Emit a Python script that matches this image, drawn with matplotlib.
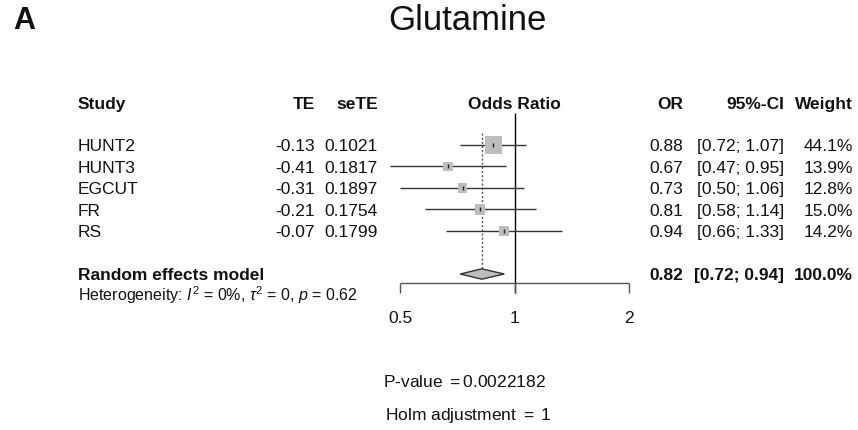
import numpy as np
import matplotlib
matplotlib.use("Agg")
import matplotlib.pyplot as plt
import matplotlib.transforms as mtransforms
from matplotlib.patches import Polygon

plt.rcParams['font.family'] = ['Liberation Sans', 'DejaVu Sans']
plt.rcParams['mathtext.fontset'] = 'custom'
plt.rcParams['mathtext.rm'] = 'Liberation Sans'
plt.rcParams['mathtext.it'] = 'Liberation Sans:italic'

# ---- data ----
studies = ['HUNT2', 'HUNT3', 'EGCUT', 'FR', 'RS']
te = [-0.13, -0.41, -0.31, -0.21, -0.07]
se_te = [0.1021, 0.1817, 0.1897, 0.1754, 0.1799]
odds = [0.88, 0.67, 0.73, 0.81, 0.94]
ci_low = [0.72, 0.47, 0.50, 0.58, 0.66]
ci_high = [1.07, 0.95, 1.06, 1.14, 1.33]
weights = [44.1, 13.9, 12.8, 15.0, 14.2]
pooled = [0.82, 0.72, 0.94]   # OR, lower, upper
x_ticks = [0.5, 1, 2]

W, H = 858, 430
fig = plt.figure(figsize=(W / 100, H / 100), dpi=100)
ax = fig.add_axes([0, 0, 1, 1])
ax.set_xscale('log')
# 0.5 -> 400px, 2 -> 629px ; row 0 -> 145px, 21.5px per row
ax.set_xlim(0.5 * 2 ** (-400 / 114.5), 8.0)
ax.set_ylim((H - 145) / 21.5, -145 / 21.5)
ax.axis('off')

tr = mtransforms.blended_transform_factory(ax.transAxes, ax.transData)

def px(x):
    return x / W

def txt(x, y, s, ha='left', bold=False, size=12.5):
    ax.text(px(x), y + 0.08, s, transform=tr, ha=ha, va='center',
            fontsize=size, fontweight='bold' if bold else 'normal', color='#111111')

rows = np.arange(len(studies))
hdr = -1.95
pool_y = 6.0

# headers
txt(78, hdr, 'Study', bold=True)
txt(315, hdr, 'TE', ha='right', bold=True)
txt(378, hdr, 'seTE', ha='right', bold=True)
txt(514, hdr, 'Odds Ratio', ha='center', bold=True)
txt(683, hdr, 'OR', ha='right', bold=True)
txt(784, hdr, '95%-CI', ha='right', bold=True)
txt(853, hdr, 'Weight', ha='right', bold=True)

# study rows
for i, name in enumerate(studies):
    txt(78, i, name)
    txt(315, i, f'{te[i]:.2f}', ha='right')
    txt(378, i, f'{se_te[i]:.4f}', ha='right')
    txt(683, i, f'{odds[i]:.2f}', ha='right')
    txt(784, i, f'[{ci_low[i]:.2f}; {ci_high[i]:.2f}]', ha='right')
    txt(853, i, f'{weights[i]:.1f}%', ha='right')

# pooled row
txt(78, pool_y, 'Random effects model', bold=True)
txt(683, pool_y, f'{pooled[0]:.2f}', ha='right', bold=True)
txt(784, pool_y, f'[{pooled[1]:.2f}; {pooled[2]:.2f}]', ha='right', bold=True)
txt(853, pool_y, f'{sum(weights):.1f}%', ha='right', bold=True)
txt(78, 6.9, r'Heterogeneity: $I^2$ = 0%, $\tau^2$ = 0, $p$ = 0.62', size=11.5)

# CI lines and squares
ax.hlines(rows, ci_low, ci_high, color='#333333', lw=1.0, zorder=2)
side_pt = 17.5 * 0.72 * np.sqrt(np.array(weights) / max(weights))
ax.scatter(odds, rows, marker='s', s=side_pt ** 2, color='#bdbdbd',
           edgecolors='none', zorder=3)
ax.plot(odds, rows, '|', color='#222222', ms=3.5, mew=1.0, zorder=4)

# reference lines
ax.vlines(1, -1.49, 6.9, color='black', lw=1.0, zorder=1)
ax.vlines(pooled[0], -0.55, pool_y - 0.23, color='#555555', lw=1.0,
          linestyles=(0, (1.5, 1.5)), zorder=1)

# diamond
dia = Polygon([(pooled[1], pool_y), (pooled[0], pool_y - 0.24),
               (pooled[2], pool_y), (pooled[0], pool_y + 0.24)],
              closed=True, facecolor='#bdbdbd', edgecolor='#333333', lw=1.0, zorder=3)
ax.add_patch(dia)

# x axis
axis_y = 6.4
ax.hlines(axis_y, x_ticks[0], x_ticks[-1], color='#555555', lw=1.0)
ax.vlines(x_ticks, axis_y, axis_y + 0.47, color='#555555', lw=1.0)
for t in x_ticks:
    ax.text(t, 8.05, f'{t:g}', ha='center', va='center', fontsize=12.5, color='#111111')

# titles and notes
fig.text(px(467), 1 - 20 / H, 'Glutamine', ha='center', va='center', fontsize=25, color='#111111')
fig.text(px(13), 1 - 21 / H, 'A', ha='left', va='center', fontsize=22, fontweight='bold', color='#111111')
txt(383, (380 - 145) / 21.5, 'P-value $=$0.0022182')
txt(385, (414 - 145) / 21.5, 'Holm adjustment $=$ 1')

fig.savefig('out.png', dpi=100)
